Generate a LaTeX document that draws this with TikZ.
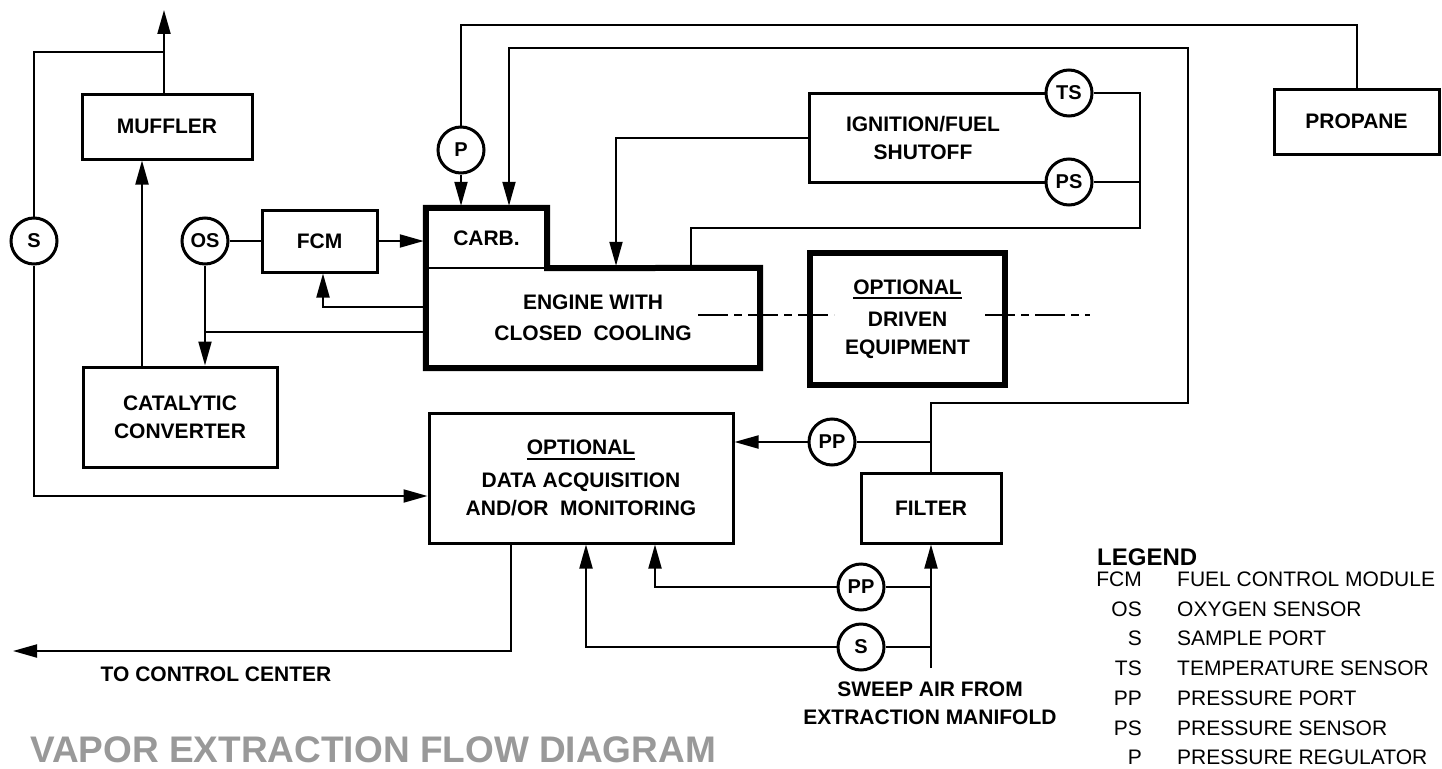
\documentclass[tikz,border=0pt]{standalone}
\usepackage{fontspec}
\setmainfont{Liberation Sans}
\usetikzlibrary{arrows.meta,calc}
\newcommand{\dlbl}{\fontsize{21}{28}\selectfont\bfseries}
\newcommand{\dprt}{\fontsize{20}{24}\selectfont\bfseries}
\newcommand{\dleg}{\fontsize{21}{26}\selectfont}
\newcommand{\dlegb}{\fontsize{24}{28}\selectfont\bfseries}
\newcommand{\dul}[1]{\setbox0\hbox{#1}\rlap{\rule[-5pt]{\wd0}{2pt}}\box0}
\begin{document}
\begin{tikzpicture}[x=1pt,y=-1pt,
  conn/.style={line width=2pt},
  arr/.style={conn,-{Triangle[length=24pt,width=13pt]}},
  box/.style={draw,line width=3pt,rectangle,inner sep=0pt,align=center,font=\dlbl},
  heavy/.style={box,line width=6pt},
  port/.style={draw,circle,line width=3pt,minimum size=46pt,inner sep=0pt,font=\dprt,fill=white},
  lbl/.style={font=\dlbl,align=center,inner sep=0pt},
]
\useasboundingbox (0,0) rectangle (1442,768);
\clip (0,0) rectangle (1442,768);

% ---------- boxes ----------
\node[box,minimum width=170pt,minimum height=65pt] (muffler) at (167,126.5) {MUFFLER};
\node[box,minimum width=194pt,minimum height=100pt] (cat) at (180,417) {CATALYTIC\\CONVERTER};
\node[box,minimum width=115pt,minimum height=62pt] (fcm) at (319.5,241) {FCM};
\node[lbl,minimum width=121pt,minimum height=60pt] (carb) at (486.5,238) {CARB.};
\node[lbl,minimum width=334pt,minimum height=100pt] (engine) at (593,318) {ENGINE WITH\\[3pt]CLOSED\ \ COOLING};
\draw[line width=6pt,line join=miter] (carb.north west) -- (carb.north east) -- (carb.south east) -- (engine.north east) -- (engine.south east) -- (engine.south west) -- cycle;
\draw[line width=2.5pt] (carb.south west) -- (carb.south east);
\node[heavy,minimum width=195pt,minimum height=132pt] (driven) at (907.5,319) {\dul{OPTIONAL}\\[4pt]DRIVEN\\EQUIPMENT};
\node[lbl] (ign) at (923,138) {IGNITION/FUEL\\SHUTOFF};
\node[box,minimum width=165pt,minimum height=65pt] (propane) at (1356.5,121.5) {PROPANE};
\node[box,minimum width=304pt,minimum height=130pt] (daq) at (581,478) {\dul{OPTIONAL}\\[5pt]DATA ACQUISITION\\AND/OR\ \ MONITORING};
\node[box,minimum width=140pt,minimum height=70pt] (filter) at (931,508) {FILTER};

% ---------- ports ----------
\node[port] (S1) at (34,241) {S};
\node[port] (OS) at (205,241) {OS};
\node[port] (P) at (461,150) {P};
\node[port] (TS) at (1069,93) {TS};
\node[port] (PS) at (1069,182) {PS};
\node[port] (PP1) at (832,442) {PP};
\node[port] (PP2) at (861,587) {PP};
\node[port] (S2) at (861,647) {S};

% ---------- coordinates ----------
\coordinate (junc) at (164,52);
\coordinate (exh) at (164,10);
\coordinate (c142) at (142,0);
\coordinate (y332) at (0,332);
\coordinate (y307) at (0,307);
\coordinate (x323) at (323,0);
\coordinate (y496) at (0,496);
\coordinate (yTop) at (0,25);
\coordinate (r1) at (1188,403);
\coordinate (r2) at (1188,48);
\coordinate (r3) at (509,48);
\coordinate (igTL) at (809,93);
\coordinate (igBL) at (809,182);
\coordinate (igL) at (809,138);
\coordinate (ignDrop) at (616,0);
\coordinate (brkT) at (1140,93);
\coordinate (brkB) at (1140,228);
\coordinate (engR) at (691,228);
\coordinate (d655) at (655,0);
\coordinate (d586) at (586,0);
\coordinate (d511) at (511,0);
\coordinate (sweep) at (931,668);
\coordinate (ctrl) at (13,651);
\coordinate (dA) at (698,315);
\coordinate (dB) at (834,315);
\coordinate (dC) at (985,315);
\coordinate (dD) at (1090,315);

% ---------- connectors ----------
\draw[conn] (S1.north) |- (junc);
\draw[arr] (muffler.north -| junc) -- (exh);
\draw[arr] (cat.north -| c142) -- (muffler.south -| c142);
\draw[conn] (OS.east) -- (fcm.west);
\draw[arr] (fcm.east) -- ($(fcm.east -| carb.west)+(-2,0)$);
\draw[arr] (OS.south) -- (OS.south |- cat.north);
\draw[conn] (engine.west |- y332) -- (OS.south |- y332);
\draw[arr] (engine.west |- y307) -| (x323 |- fcm.south);
\draw[arr] (S1.south) |- (daq.west |- y496);

\draw[conn] (propane.north) |- (P |- yTop) -- (P.north);
\draw[arr] (P.south) -- ($(P.south |- carb.north)+(0,-2)$);
\draw[arr] (filter.north) |- (r1) -- (r2) -- (r3) -- ($(r3 |- carb.north)+(0,-2)$);

\draw[line width=3pt,line join=miter] (TS.west) -- (igTL) -- (igBL) -- (PS.west);
\draw[arr] (igL) -| ($(ignDrop |- engine.north)+(0,-2)$);
\draw[conn] (TS.east) -- (brkT) -- (brkB) -- (engR) -- (engR |- engine.north);
\draw[conn] (PS.east) -- (PS.east -| brkT);

\draw[conn,dash pattern=on 30pt off 6pt on 8pt off 6pt] (dA) -- (dB);
\draw[conn,dash pattern=on 30pt off 6pt on 8pt off 6pt] (dC) -- (dD);

\draw[arr] (PP1.west) -- (PP1.west -| daq.east);
\draw[conn] (PP1.east) -- (PP1.east -| filter.north);
\draw[arr] (PP2.west) -| (d655 |- daq.south);
\draw[conn] (PP2.east) -- (PP2.east -| filter.south);
\draw[arr] (S2.west) -| (d586 |- daq.south);
\draw[conn] (S2.east) -- (S2.east -| filter.south);
\draw[arr] (sweep) -- (filter.south);
\draw[arr] (d511 |- daq.south) |- (ctrl);

% ---------- free labels ----------
\node[lbl] (ctrllbl) at (216,674) {TO CONTROL CENTER};
\node[lbl,anchor=north] (sweeplbl) at (930,682) {SWEEP AIR FROM\\EXTRACTION MANIFOLD};

% ---------- legend ----------
\node[anchor=west,font=\dlegb,inner sep=0pt] (legend) at (1097,557) {LEGEND};
\foreach \a/\d [count=\i from 0] in {FCM/FUEL CONTROL MODULE,OS/OXYGEN SENSOR,S/SAMPLE PORT,TS/TEMPERATURE SENSOR,PP/PRESSURE PORT,PS/PRESSURE SENSOR,P/PRESSURE REGULATOR}{
  \node[anchor=base east,font=\dleg,inner sep=0pt] (la\i) at (1142,{586.5+29.7*\i}) {\a};
  \node[anchor=base west,font=\dleg,inner sep=0pt] (ld\i) at (1177,{586.5+29.7*\i}) {\d};
}

% ---------- faded title ----------
\node[anchor=base west,font=\fontsize{37}{37}\selectfont\bfseries,text=black!40,inner sep=0pt] (title) at (30,762) {VAPOR EXTRACTION FLOW DIAGRAM};
\end{tikzpicture}
\end{document}
